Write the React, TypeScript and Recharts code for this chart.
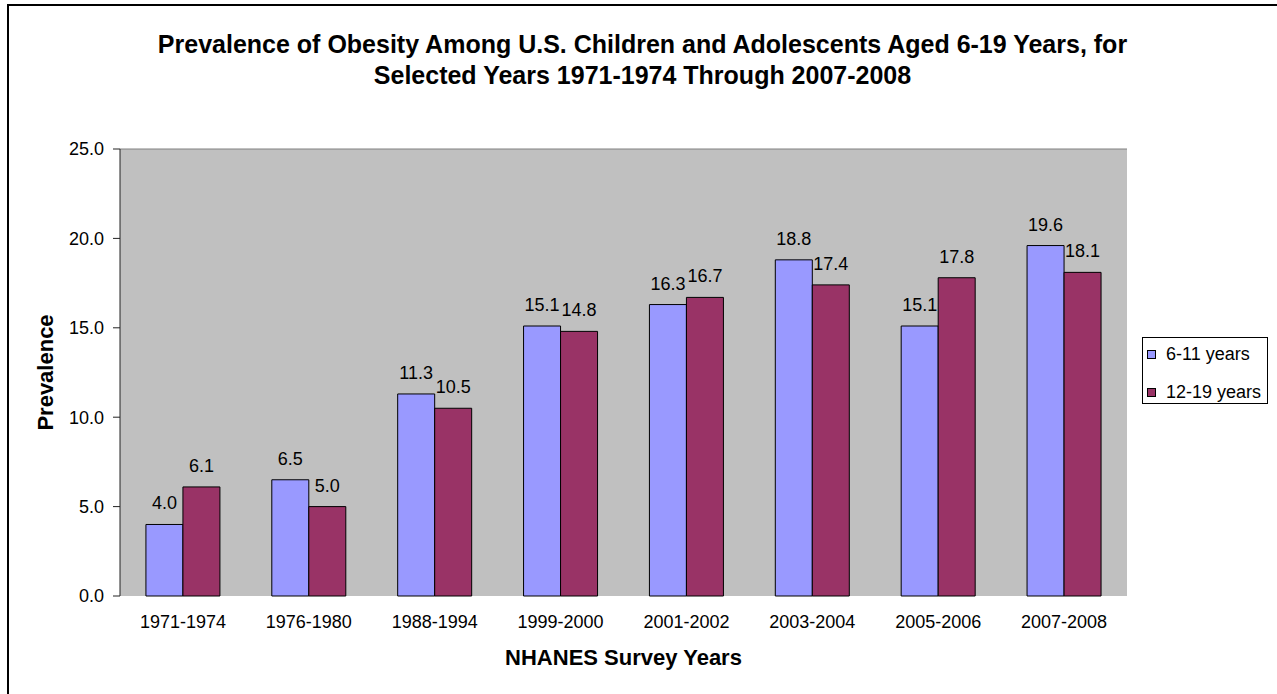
import React from "react";
import {
  BarChart, Bar, XAxis, YAxis, CartesianGrid, LabelList, Label, ReferenceLine,
} from "recharts";

const surveyYears = [
  "1971-1974", "1976-1980", "1988-1994", "1999-2000",
  "2001-2002", "2003-2004", "2005-2006", "2007-2008",
];
const ages6to11 = [4.0, 6.5, 11.3, 15.1, 16.3, 18.8, 15.1, 19.6];
const ages12to19 = [6.1, 5.0, 10.5, 14.8, 16.7, 17.4, 17.8, 18.1];
const yTicks = [0, 5, 10, 15, 20, 25];

const seriesInfo = [
  { key: "young", name: "6-11 years", color: "#9999FF" },
  { key: "teen", name: "12-19 years", color: "#993366" },
];

const FONT = "Arial, 'Liberation Sans', sans-serif";

const data = surveyYears.map((year, i) => ({
  year,
  idx: i + 0.5,
  young: ages6to11[i],
  teen: ages12to19[i],
}));

// tick marks sit between categories, like the original
const edgeTicks = surveyYears.map((_, i) => i).concat([surveyYears.length]);

function LegendBox() {
  return (
    <div
      style={{
        position: "absolute",
        left: 1142,
        top: 337,
        width: 126,
        height: 67,
        border: "1px solid #000",
        boxSizing: "border-box",
        paddingTop: 4,
        paddingLeft: 4,
        background: "#fff",
        fontFamily: FONT,
        fontSize: 18,
      }}
    >
      {seriesInfo.map((s, i) => (
        <div
          key={s.key}
          style={{ display: "flex", alignItems: "center", height: 24, marginTop: i > 0 ? 14 : 0 }}
        >
          <span
            style={{
              display: "inline-block",
              width: 7,
              height: 7,
              background: s.color,
              border: "1px solid #000",
              marginRight: 10,
            }}
          />
          <span>{s.name}</span>
        </div>
      ))}
    </div>
  );
}

export default function App() {
  return (
    <div style={{ position: "relative", width: 1277, height: 694, overflow: "hidden", background: "#fff" }}>
      <style>{"body{margin:0}"}</style>
      <div
        style={{
          position: "absolute",
          left: 7,
          top: 4,
          width: 1300,
          height: 720,
          border: "2px solid #000",
          boxSizing: "border-box",
        }}
      />
      <div
        style={{
          position: "absolute",
          left: 0,
          top: 29,
          width: 1285,
          textAlign: "center",
          fontFamily: FONT,
          fontWeight: "bold",
          fontSize: 25,
          lineHeight: "31px",
        }}
      >
        Prevalence of Obesity Among U.S. Children and Adolescents Aged 6-19 Years, for
        <br />
        Selected Years 1971-1974 Through 2007-2008
      </div>
      <div style={{ position: "absolute", left: 0, top: 0 }}>
        <BarChart
          width={1277}
          height={694}
          data={data}
          margin={{ top: 149, right: 150, bottom: 18, left: 20 }}
          barCategoryGap="20.6%"
          barGap={0}
        >
          <CartesianGrid fill="#C0C0C0" horizontal={false} vertical={false} />
          <XAxis
            xAxisId="edges"
            type="number"
            dataKey="idx"
            domain={[0, surveyYears.length]}
            ticks={edgeTicks}
            tick={false}
            height={0}
            stroke="#222"
            tickSize={7}
            allowDataOverflow
          />
          <XAxis
            xAxisId="cat"
            dataKey="year"
            height={80}
            axisLine={false}
            tickLine={false}
            tickSize={0}
            tick={{ fill: "#000", fontSize: 18, fontFamily: FONT }}
            tickMargin={19}
            interval={0}
          >
            <Label
              value="NHANES Survey Years"
              position="insideBottom"
              offset={11}
              style={{ fill: "#000", fontSize: 22, fontWeight: "bold", fontFamily: FONT }}
            />
          </XAxis>
          <YAxis
            yAxisId="left"
            width={100}
            domain={[0, 25]}
            ticks={yTicks}
            tickFormatter={(v: number) => v.toFixed(1)}
            stroke="#222"
            tickSize={7}
            tickMargin={9}
            tick={{ fill: "#000", fontSize: 18, fontFamily: FONT }}
          >
            <Label
              content={({ viewBox }: any) => {
                const lx = viewBox.x + 33;
                const ly = viewBox.y + viewBox.height / 2;
                return (
                  <text
                    x={lx}
                    y={ly}
                    transform={`rotate(-90, ${lx}, ${ly})`}
                    textAnchor="middle"
                    style={{ fill: "#000", fontSize: 22, fontWeight: "bold", fontFamily: FONT }}
                  >
                    Prevalence
                  </text>
                );
              }}
            />
          </YAxis>
          <YAxis
            yAxisId="right"
            orientation="right"
            width={0}
            domain={[0, 25]}
            tick={false}
            tickLine={false}
            stroke="#808080"
          />
          <ReferenceLine yAxisId="left" xAxisId="cat" y={25} stroke="#808080" />
          {seriesInfo.map((s) => (
            <Bar
              key={s.key}
              xAxisId="cat"
              yAxisId="left"
              dataKey={s.key}
              name={s.name}
              fill={s.color}
              stroke="#000"
              strokeWidth={1}
              isAnimationActive={false}
            >
              <LabelList
                dataKey={s.key}
                position="top"
                offset={15}
                formatter={(v: number) => v.toFixed(1)}
                style={{ fill: "#000", fontSize: 18, fontFamily: FONT }}
              />
            </Bar>
          ))}
        </BarChart>
      </div>
      <LegendBox />
    </div>
  );
}
